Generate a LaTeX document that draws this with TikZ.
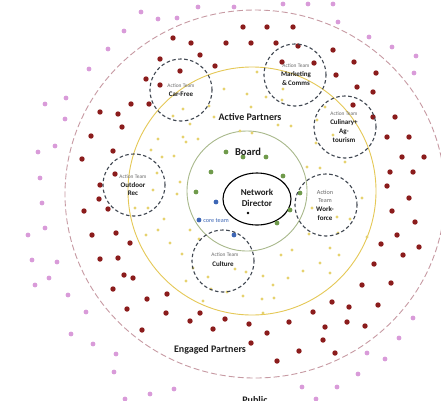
\documentclass[tikz,border=0pt]{standalone}
\usepackage{fontspec}
\setmainfont{Carlito}
\usetikzlibrary{shapes.geometric}
\definecolor{pinkline}{HTML}{C79AA3}
\definecolor{yelline}{HTML}{E5C856}
\definecolor{grnline}{HTML}{A9B98C}
\definecolor{teamline}{HTML}{3F4650}
\definecolor{reddot}{HTML}{8B1C1C}
\definecolor{pinkdot}{HTML}{D99BD9}
\definecolor{yeldot}{HTML}{E6D26E}
\definecolor{grndot}{HTML}{6F9A4B}
\definecolor{bluedot}{HTML}{3D66B5}
\definecolor{txtdark}{HTML}{1E1E1E}
\definecolor{txtgray}{HTML}{6A6A6A}
\tikzset{
  ring/.style={draw, inner sep=0pt, outer sep=0pt},
  teamring/.style={ring, circle, teamline, line width=1.1pt, dash pattern=on 3.5pt off 2.5pt, minimum size=62pt},
  bigtxt/.style={font=\fontsize{10}{12}\selectfont\bfseries, text=txtdark, inner sep=0pt},
  attxt/.style={font=\fontsize{5.4}{6}\selectfont, text=txtgray, inner sep=0pt},
  nametxt/.style={font=\fontsize{7}{8.7}\selectfont\bfseries, text=txtdark, inner sep=0pt, align=center},
}
\begin{document}
\begin{tikzpicture}[x=1pt,y=-1pt]
\useasboundingbox (0,0) rectangle (441,400);
\fill[white] (0,0) rectangle (441,400);

% rings
\node[ring, ellipse, pinkline, line width=0.9pt, dash pattern=on 6pt off 3pt, minimum width=380pt, minimum height=368pt] (engaged) at (255,194) {};
\node[ring, circle, yelline, line width=0.9pt, minimum size=248pt] (active) at (252,191) {};
\node[ring, circle, grnline, line width=0.9pt, minimum size=120pt] (board) at (247,191) {};
\node[ring, ellipse, black, line width=1.1pt, minimum width=68pt, minimum height=52pt] (director) at (257,199) {};

% dots
\foreach \p in {(198,7),(141,12),(158,19),(177,18),(124,31),(108,49),(89,69),(66,98),(45,104),(65,119),(55,146),(38,152),(40,178),
 (234,7),(283,4),(308,4),(333,4),(338,22),(369,37),(392,47),(416,56),(414,73),
 (42,203),(45,228),(28,235),(32,260),(57,262),(49,278),(35,285),(68,295),(86,312),(71,334),(93,344),(116,354),(114,372),(150,394),(174,389),(125,399),
 (413,318),(399,338),(367,353),(385,359),(358,374),(337,387),(302,387),(316,399)}
  \fill[pinkdot] \p circle (2.4pt);
\foreach \p in {(173,38),(191,43),(200,55),(160,59),(180,71),(215,66),(146,79),(160,85),(149,104),(131,104),(100,112),(118,114),(122,127),(91,136),(113,151),(82,159),(115,174),(100,185),(99,199),
 (243,27),(267,27),(293,27),(226,43),(251,43),(276,43),(298,46),(333,50),(282,62),(314,63),(354,62),(336,75),(376,73),(357,87),(373,92),(353,105),(373,117),(395,117),(387,137),(409,137),(402,157),(424,157),(390,172),(413,172),(387,186),(409,198),
 (84,211),(108,209),(92,235),(116,233),(130,243),(100,259),(118,258),(124,275),(133,278),(113,289),(147,299),(167,294),(127,309),(166,313),(142,330),(190,321),(200,313),(213,329),
 (392,211),(415,222),(397,235),(419,247),(381,244),(403,255),(374,264),(391,283),(362,285),(378,305),(332,302),(349,307),(313,312),(225,319),(249,324),(289,322),(325,327),(347,322),(365,326),(267,333),(251,343),(299,351),(323,340),(335,353),(277,361)}
  \fill[reddot] \p circle (2.7pt);
\foreach \p in {(183,109),(173,116),(190,124),(209,106),(214,117),(158,139),(183,137),(186,142),(198,139),(151,150),(162,157),(174,156),(157,173),(180,182),(153,190),(177,194),
 (224,89),(247,94),(266,97),(283,89),(251,107),(282,100),(278,125),(291,126),(240,131),(252,133),(257,72),(325,107),(317,120),(316,143),(333,135),(345,162),(307,167),(320,168),(362,198),
 (135,208),(148,208),(164,219),(146,235),(158,230),(170,243),(190,230),(199,239),(182,254),(193,268),(186,281),(208,277),(211,289),(203,301),
 (312,208),(337,217),(350,219),(309,234),(338,233),(367,237),(281,255),(292,250),(330,248),(339,255),(320,263),(303,271),(330,273),(263,276),(288,278),(246,272),(273,285),(235,269),(243,296),(262,299),(274,298),(263,313),(227,292)}
  \fill[yeldot] \p circle (1.6pt);
\foreach \p in {(226,152),(243,157),(266,157),(211,172),(283,176),(196,192),(300,193),(290,210),(277,223)}
  \fill[grndot] \p circle (2.4pt);
\foreach \p in {(216,202),(199,220),(234,235)}
  \fill[bluedot] \p circle (2.4pt);
\fill[black] (248,213) circle (1.4pt);

% action team rings
\node[teamring] (carfree) at (181,90) {};
\node[teamring] (marketing) at (295,75) {};
\node[teamring] (culinary) at (345,127) {};
\node[teamring] (outdoor) at (134,185) {};
\node[teamring] (culture) at (223,261) {};
\node[teamring] (workforce) at (326,205) {};

% action team labels
\node[attxt] (carfree-at) at (181,86) {Action Team};
\node[nametxt] (carfree-n) at (181,94) {Car-Free};
\node[attxt] (marketing-at) at (296,66) {Action Team};
\node[nametxt] (marketing-n) at (296,78.5) {Marketing\\\&\,Comms};
\node[attxt] (culinary-at) at (344,114) {Action Team};
\node[nametxt] (culinary-n) at (344,131) {Culinary+\\Ag-\\tourism};
\node[attxt] (outdoor-at) at (133,177) {Action Team};
\node[nametxt] (outdoor-n) at (133,189) {Outdoor\\Rec};
\node[attxt] (culture-at) at (225,255) {Action Team};
\node[nametxt] (culture-n) at (223,264) {Culture};
\node[attxt, font=\fontsize{6.2}{8}\selectfont, align=center] (workforce-at) at (325,196) {Action\\Team};
\node[nametxt] (workforce-n) at (325,213.5) {Work-\\force};

% main labels
\node[bigtxt] (active-l) at (250,117) {Active Partners};
\node[bigtxt, font=\fontsize{10.5}{12}\selectfont\bfseries] (board-l) at (248,152) {Board};
\node[bigtxt, font=\fontsize{9}{11}\selectfont\bfseries, align=center] (director-l) at (257,197.5) {Network\\Director};
\node[inner sep=0pt, text=bluedot, font=\fontsize{6.2}{7}\selectfont] (core-l) at (216,221) {core team};
\node[bigtxt] (engaged-l) at (210,350) {Engaged Partners};
\node[bigtxt] (public-l) at (255,400) {Public};
\end{tikzpicture}
\end{document}
